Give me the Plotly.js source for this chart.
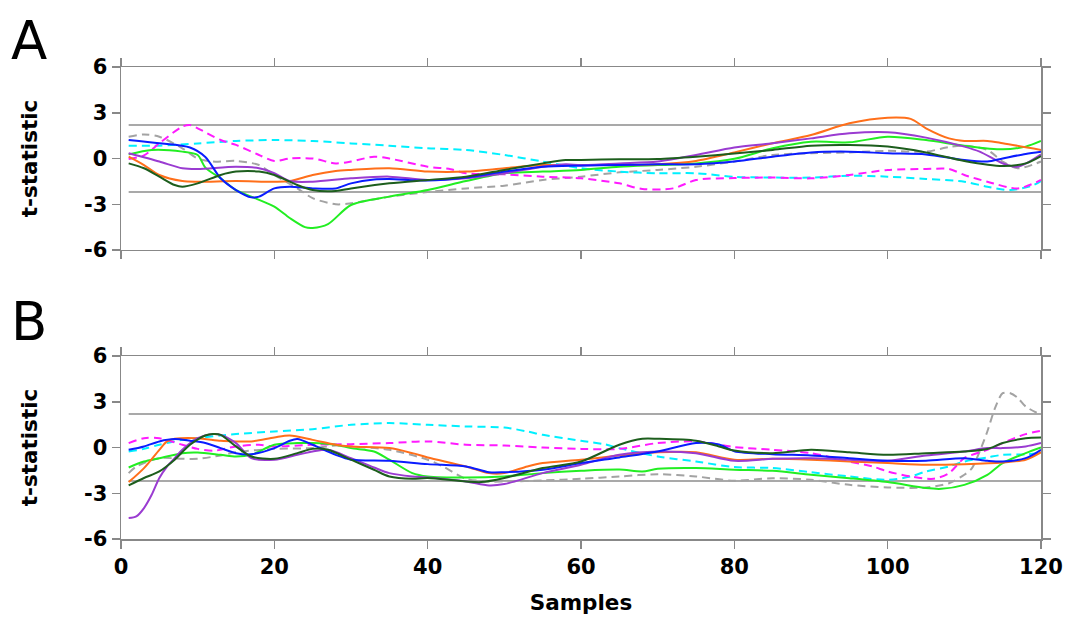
<!DOCTYPE html>
<html>
<head>
<meta charset="utf-8">
<script src="https://cdn.plot.ly/plotly-3.0.1.min.js"></script>
<style>html,body{margin:0;padding:0;background:#fff;}#chart{width:1067px;height:619px;}</style>
</head>
<body>
<div id="chart"></div>
<script>
// ---------- Panel A data ----------
const orangeA_x = [1,3,5,8,10,15,20,22,25,28,30,35,40,45,50,55,60,65,70,75,80,85,90,95,100,103,105,108,110,113,115,120];
const orangeA_y = [0.12,-0.43,-1.08,-1.48,-1.52,-1.48,-1.52,-1.48,-1.08,-0.82,-0.75,-0.64,-0.86,-0.86,-0.64,-0.43,-0.43,-0.43,-0.38,-0.16,0.4,1.0,1.54,2.31,2.68,2.6,1.98,1.32,1.15,1.15,1.0,0.56];
const purpleA_x = [1,5,8,10,15,18,20,22,25,30,35,40,45,50,55,58,60,65,70,75,80,85,90,95,100,105,110,112,115,117,120];
const purpleA_y = [0.34,-0.2,-0.64,-0.69,-0.54,-0.64,-0.97,-1.48,-1.52,-1.3,-1.19,-1.41,-1.3,-0.97,-0.54,-0.38,-0.43,-0.32,-0.2,0.23,0.72,1.0,1.32,1.65,1.72,1.37,0.78,0.45,-0.32,-0.54,0.27];
const greenA_x = [1,4,8,10,11,13,15,17,20,22,24,25,27,30,35,40,45,50,55,60,65,70,75,80,85,90,95,100,105,110,115,118,120];
const greenA_y = [0.27,0.56,0.45,0.23,-0.6,-1.3,-2.07,-2.5,-3.16,-3.9,-4.5,-4.55,-4.3,-3.05,-2.5,-2.07,-1.48,-0.97,-0.86,-0.75,-0.54,-0.43,-0.32,-0.02,0.67,1.1,1.06,1.43,1.21,0.84,0.6,0.78,1.15];
const blueA_x = [1,5,9,11,13,15,17,18,20,22,25,28,30,33,35,40,45,50,55,60,65,70,75,80,85,90,95,100,105,110,113,115,118,120];
const blueA_y = [1.21,1.0,0.72,0.1,-1.3,-2.07,-2.55,-2.5,-1.96,-1.85,-1.96,-1.96,-1.63,-1.37,-1.34,-1.45,-1.25,-0.86,-0.54,-0.47,-0.43,-0.38,-0.38,-0.2,0.12,0.4,0.45,0.34,0.27,-0.1,-0.2,0.0,0.3,0.45];
const dkgreenA_x = [1,3,5,7,8,10,13,15,18,20,23,25,28,30,35,40,45,50,55,58,60,65,70,75,80,85,90,95,100,105,110,115,118,120];
const dkgreenA_y = [-0.32,-0.64,-1.19,-1.74,-1.85,-1.63,-1.08,-0.86,-0.86,-1.08,-1.74,-2.07,-2.13,-1.96,-1.63,-1.41,-1.19,-0.75,-0.32,-0.1,-0.1,-0.05,-0.03,0.12,0.32,0.56,0.84,0.89,0.78,0.4,-0.16,-0.49,-0.32,0.16];
const grayA_x = [1,3,5,8,10,12,15,18,20,23,25,28,30,35,40,45,50,55,60,65,70,75,80,85,90,95,100,105,108,110,113,115,117,120];
const grayA_y = [1.43,1.58,1.43,0.67,0.0,-0.2,-0.16,-0.43,-1.08,-1.96,-2.6,-3.0,-2.94,-2.5,-2.2,-1.96,-1.78,-1.41,-1.19,-0.91,-0.75,-0.54,-0.2,0.23,0.34,0.4,0.5,0.45,0.75,0.84,0.56,-0.2,-0.64,-0.2];
const magentaA_x = [1,3,5,8,9,10,13,15,18,20,22,25,28,30,33,35,40,43,45,50,55,60,65,68,72,75,80,85,90,95,100,105,108,110,113,117,120];
const magentaA_y = [-0.03,0.2,1.0,2.09,2.2,1.98,1.21,0.89,0.23,-0.16,0.0,0.0,-0.32,-0.2,0.12,0.0,-0.54,-0.7,-0.97,-1.04,-1.19,-1.3,-1.63,-2.0,-1.96,-1.41,-1.28,-1.25,-1.3,-1.08,-0.75,-0.69,-0.69,-1.08,-1.52,-1.96,-1.41];
const cyanA_x = [1,5,10,15,20,25,30,35,40,45,50,55,60,65,70,75,80,85,90,95,100,105,110,113,116,119,120];
const cyanA_y = [0.84,0.84,0.99,1.15,1.21,1.15,0.99,0.84,0.67,0.56,0.23,-0.2,-0.64,-0.86,-0.97,-0.97,-1.2,-1.25,-1.25,-1.13,-1.19,-1.34,-1.52,-1.85,-2.07,-1.75,-1.48];

// ---------- Panel B data ----------
const purpleB_x = [1,2,3,4,5,6,7,8,10,12,13,15,17,20,23,25,27,30,33,35,38,40,45,48,50,55,60,65,70,75,80,85,90,95,100,105,110,113,115,118,120];
const purpleB_y = [-4.63,-4.52,-3.97,-3.1,-2.0,-1.25,-0.7,-0.15,0.61,0.88,0.83,0.29,-0.7,-0.8,-0.48,-0.26,-0.15,-0.7,-1.31,-1.68,-1.9,-1.97,-2.23,-2.49,-2.4,-1.68,-1.13,-0.48,-0.26,-0.37,-0.87,-0.74,-0.7,-0.8,-0.87,-0.52,-0.26,-0.04,-0.04,0.07,0.29];
const dkgreenB_x = [1,3,5,7,9,11,12,13,15,17,20,23,25,27,30,33,35,38,40,45,47,50,55,60,65,68,70,75,78,80,85,90,95,100,105,110,113,115,118,120];
const dkgreenB_y = [-2.49,-2.0,-1.57,-0.8,0.18,0.79,0.88,0.83,0.07,-0.59,-0.74,-0.37,-0.09,-0.15,-0.8,-1.46,-1.9,-2.05,-2.0,-2.23,-2.27,-2.0,-1.35,-0.92,0.18,0.57,0.57,0.44,0.07,-0.2,-0.37,-0.15,-0.31,-0.48,-0.37,-0.26,-0.1,0.29,0.61,0.66];
const orangeB_x = [1,3,5,6,7,10,13,15,17,20,22,25,28,30,35,38,40,45,48,50,53,55,60,65,70,75,80,85,90,95,100,105,110,115,118,120];
const orangeB_y = [-2.27,-1.35,-0.15,0.4,0.57,0.61,0.44,0.4,0.4,0.66,0.79,0.5,0.18,0.07,-0.04,-0.37,-0.65,-1.24,-1.68,-1.68,-1.24,-1.02,-0.8,-0.52,-0.31,-0.31,-0.8,-0.74,-0.8,-0.92,-1.02,-1.13,-1.09,-0.98,-0.8,-0.31];
const blueB_x = [1,3,5,7,9,11,13,15,17,20,22,23,25,28,30,35,40,45,48,50,55,60,65,70,75,78,80,85,90,95,100,105,110,113,115,118,120];
const blueB_y = [-0.15,0.07,0.4,0.55,0.44,0.29,-0.04,-0.37,-0.44,-0.04,0.44,0.55,0.18,-0.48,-0.8,-0.87,-1.09,-1.24,-1.62,-1.62,-1.46,-1.02,-0.65,-0.26,0.29,0.2,-0.24,-0.44,-0.52,-0.7,-0.87,-0.87,-0.7,-0.87,-0.92,-0.7,-0.15];
const greenB_x = [1,3,5,8,10,13,15,17,20,23,25,28,30,33,35,38,40,45,50,55,60,65,68,70,75,80,85,90,95,100,105,107,110,113,115,118,120];
const greenB_y = [-1.31,-0.92,-0.7,-0.37,-0.33,-0.48,-0.59,-0.48,0.18,0.29,0.29,0.18,-0.04,-0.26,-0.8,-1.68,-1.9,-1.97,-1.9,-1.68,-1.53,-1.45,-1.57,-1.4,-1.35,-1.46,-1.53,-1.79,-2.01,-2.27,-2.66,-2.71,-2.45,-1.79,-1.02,-0.37,0.0];
const grayB_x = [1,2,5,8,10,13,15,20,25,28,30,35,40,42,45,48,50,55,60,65,70,75,80,85,90,95,100,105,108,110,111,112,113,114,115,116,117,118,120];
const grayB_y = [-1.68,-1.25,-0.7,-0.74,-0.74,-0.52,-0.31,-0.09,-0.04,0.13,0.07,-0.15,-0.8,-1.25,-2.05,-2.23,-2.23,-2.16,-2.05,-1.9,-1.75,-1.9,-2.18,-2.01,-2.12,-2.45,-2.62,-2.62,-2.34,-1.79,-1.35,-0.26,1.05,2.58,3.56,3.56,3.24,2.69,2.14];
const cyanB_x = [1,3,5,8,10,13,15,20,25,30,35,40,45,50,53,55,60,63,65,70,75,80,85,90,95,100,103,105,108,110,113,115,118,120];
const cyanB_y = [-0.26,-0.09,0.18,0.5,0.61,0.79,0.88,1.05,1.2,1.49,1.6,1.49,1.38,1.31,1.05,0.83,0.44,0.22,-0.04,-0.59,-0.92,-1.28,-1.35,-1.62,-1.9,-2.12,-1.9,-1.57,-1.24,-0.92,-0.65,-0.48,-0.45,-0.37];
const magentaB_x = [1,3,5,8,10,12,15,18,20,25,30,35,40,45,50,55,60,65,70,75,80,85,90,95,98,100,103,106,108,110,113,115,118,120];
const magentaB_y = [0.29,0.61,0.61,0.18,-0.09,-0.22,0.07,0.18,0.07,0.18,0.22,0.29,0.4,0.18,0.13,0.0,-0.09,-0.09,0.29,0.4,0.03,-0.15,-0.37,-0.92,-1.24,-1.57,-1.9,-2.05,-1.68,-0.7,-0.15,0.29,0.88,1.09];

// thresholds
const thresholdX = [1, 120];
const thresholdHi = [2.2, 2.2];
const thresholdLo = [-2.2, -2.2];

const yTicks = [-6, -3, 0, 3, 6];
const xTicks = [0, 20, 40, 60, 80, 100, 120];

const C = {
  orange: '#ff6f1a', purple: '#9a3bd1', blue: '#0a1cff', dkgreen: '#1d5e1d',
  green: '#22ee22', cyan: '#00f0ff', magenta: '#ff1aff', gray: '#a3a3a3'
};

function solid(x, y, color, ax) {
  return {x: x, y: y, xaxis: ax[0], yaxis: ax[1], type: 'scatter', mode: 'lines',
    line: {color: color, width: 2, shape: 'spline', smoothing: 0.8}, hoverinfo: 'skip', showlegend: false};
}
function dashed(x, y, color, ax) {
  const t = solid(x, y, color, ax);
  t.line.dash = '8px,5px';
  return t;
}
function thr(y, ax) {
  return {x: thresholdX, y: y, xaxis: ax[0], yaxis: ax[1], type: 'scatter', mode: 'lines',
    line: {color: '#8c8c8c', width: 1.5}, hoverinfo: 'skip', showlegend: false};
}

const A = ['x', 'y'], B = ['x2', 'y2'];
const traces = [
  thr(thresholdHi, A), thr(thresholdLo, A),
  dashed(grayA_x, grayA_y, C.gray, A),
  dashed(cyanA_x, cyanA_y, C.cyan, A),
  dashed(magentaA_x, magentaA_y, C.magenta, A),
  solid(greenA_x, greenA_y, C.green, A),
  solid(orangeA_x, orangeA_y, C.orange, A),
  solid(purpleA_x, purpleA_y, C.purple, A),
  solid(blueA_x, blueA_y, C.blue, A),
  solid(dkgreenA_x, dkgreenA_y, C.dkgreen, A),

  thr(thresholdHi, B), thr(thresholdLo, B),
  dashed(grayB_x, grayB_y, C.gray, B),
  dashed(cyanB_x, cyanB_y, C.cyan, B),
  dashed(magentaB_x, magentaB_y, C.magenta, B),
  solid(greenB_x, greenB_y, C.green, B),
  solid(orangeB_x, orangeB_y, C.orange, B),
  solid(purpleB_x, purpleB_y, C.purple, B),
  solid(blueB_x, blueB_y, C.blue, B),
  solid(dkgreenB_x, dkgreenB_y, C.dkgreen, B)
];

const FAM = 'DejaVu Sans, Liberation Sans, Arial, sans-serif';
const tickFont = {family: FAM, size: 21, color: '#000', weight: 'bold'};
const titleFont = {family: FAM, size: 21.5, color: '#000', weight: 'bold'};

function xax(showLabels, anchor) {
  return {range: [0, 120], tickvals: xTicks, ticktext: xTicks.map(String), showticklabels: showLabels,
    ticks: 'outside', ticklen: 8, tickwidth: 1.5, tickcolor: '#888', showline: true, linecolor: '#888', linewidth: 1.5,
    mirror: 'ticks', showgrid: false, zeroline: false, anchor: anchor, tickfont: tickFont};
}
function yax(domain, anchor) {
  return {range: [-6, 6], domain: domain, tickvals: yTicks, ticktext: yTicks.map(String),
    ticks: 'outside', ticklen: 8, tickwidth: 1.5, tickcolor: '#888', showline: true, linecolor: '#888', linewidth: 1.5,
    mirror: 'ticks', showgrid: false, zeroline: false, anchor: anchor, tickfont: tickFont,
    title: {text: 't-statistic', font: titleFont, standoff: 40}};
}

const xa1 = xax(false, 'y');
const xa2 = xax(true, 'y2');
xa2.title = {text: 'Samples', font: titleFont, standoff: 17};

const layout = {
  width: 1067, height: 619,
  margin: {l: 121, r: 26, t: 67, b: 80},
  paper_bgcolor: '#fff', plot_bgcolor: '#fff',
  xaxis: xa1, yaxis: yax([0.6123, 1], 'x'),
  xaxis2: xa2, yaxis2: yax([0, 0.3877], 'x2'),
  annotations: [
    {text: 'A', xref: 'paper', yref: 'paper', x: -0.122, y: 1.125, xanchor: 'left', yanchor: 'top', showarrow: false,
     font: {family: FAM, size: 53, color: '#000'}},
    {text: 'B', xref: 'paper', yref: 'paper', x: -0.122, y: 0.53, xanchor: 'left', yanchor: 'top', showarrow: false,
     font: {family: FAM, size: 53, color: '#000'}}
  ]
};

Plotly.newPlot('chart', traces, layout, {displayModeBar: false, staticPlot: true});
</script>
</body>
</html>
